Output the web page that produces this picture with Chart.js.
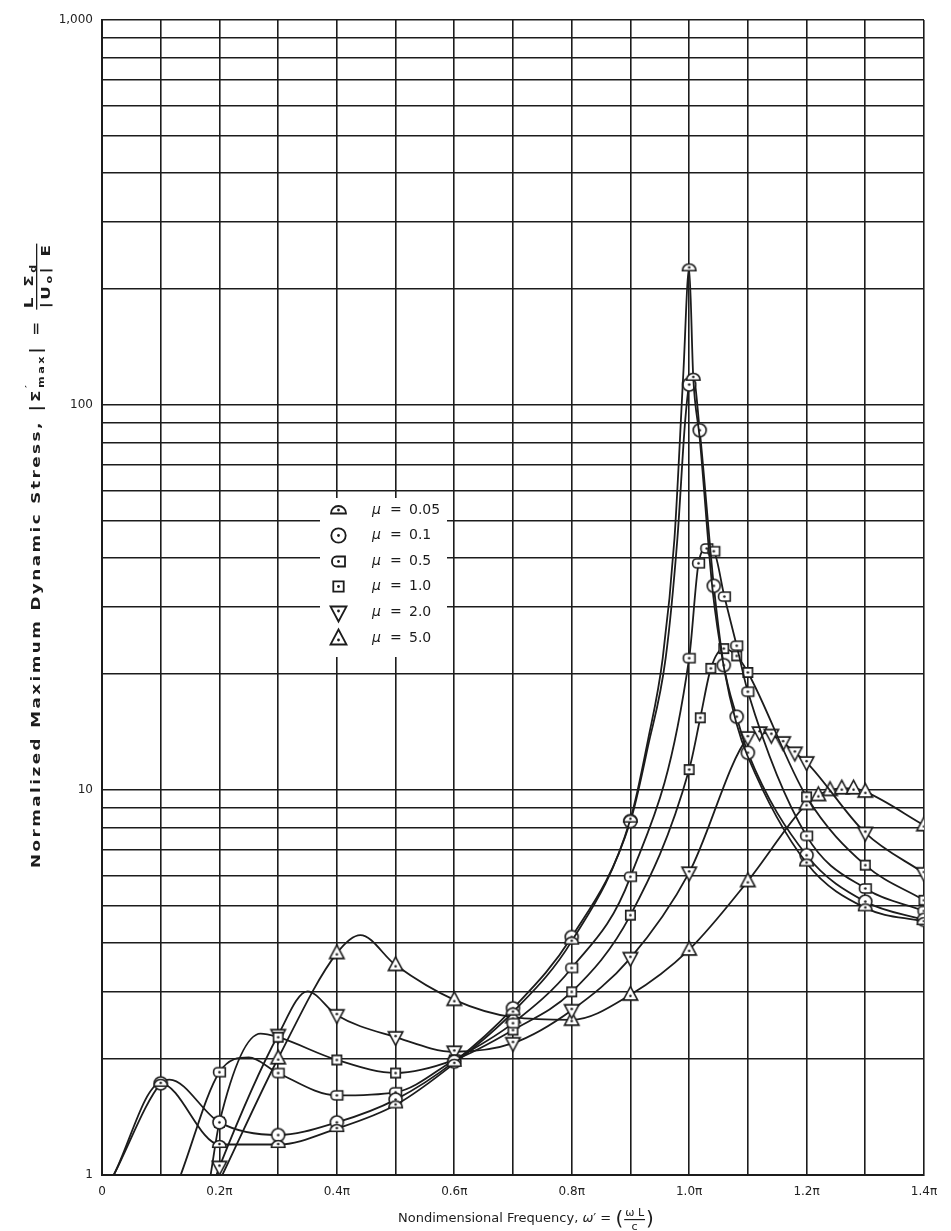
<!DOCTYPE html>
<html>
<head>
<meta charset="utf-8">
<script src="https://cdn.jsdelivr.net/npm/chart.js@4.4.0/dist/chart.umd.min.js"></script>
<style>
  html, body { margin: 0; padding: 0; background: #fff; }
  #wrap { width: 951px; height: 1231px; }
</style>
</head>
<body>
<div id="wrap"><canvas id="stressChart" width="951" height="1231"></canvas></div>
<script>
// frequency is in units of pi, stress is |sigma'max|
var freqTicks = [0, 0.1, 0.2, 0.3, 0.4, 0.5, 0.6, 0.7, 0.8, 0.9, 1.0, 1.1, 1.2, 1.3, 1.4];
var freqLabels = ['0', '', '0.2\u03c0', '', '0.4\u03c0', '', '0.6\u03c0', '', '0.8\u03c0', '', '1.0\u03c0', '', '1.2\u03c0', '', '1.4\u03c0'];
var stressTicks = [1, 2, 3, 4, 5, 6, 7, 8, 9, 10, 20, 30, 40, 50, 60, 70, 80, 90,
                   100, 200, 300, 400, 500, 600, 700, 800, 900, 1000];
var stressLabels = { 1: '1', 10: '10', 100: '100', 1000: '1,000' };

var muLabels = ['0.05', '0.1', '0.5', '1.0', '2.0', '5.0'];

// mu = 0.05
var freq005 = [0.02, 0.1, 0.2, 0.3, 0.4, 0.5, 0.6, 0.7, 0.8, 0.9, 0.93, 0.955, 0.975, 0.99, 1.0, 1.007, 1.018, 1.04, 1.06, 1.08, 1.1, 1.2, 1.3, 1.4];
var stress005 = [1.0, 1.73, 1.2, 1.2, 1.32, 1.52, 1.95, 2.65, 4.05, 8.4, 13.5, 22, 45, 120, 227, 118, 82, 33, 20.5, 15, 12.2, 6.46, 4.94, 4.55];
var marks005 = [0.1, 0.2, 0.3, 0.4, 0.5, 0.6, 0.7, 0.8, 0.9, 1.0, 1.007, 1.2, 1.3, 1.4];

// mu = 0.1
var freq01 = [0.02, 0.1, 0.115, 0.2, 0.3, 0.4, 0.5, 0.6, 0.7, 0.8, 0.9, 0.93, 0.96, 0.98, 0.993, 1.0, 1.007, 1.018, 1.042, 1.059, 1.081, 1.1, 1.2, 1.3, 1.4];
var stress01 = [1.0, 1.73, 1.77, 1.37, 1.27, 1.37, 1.57, 1.97, 2.71, 4.15, 8.3, 13, 22, 45, 90, 113, 118, 86, 33.9, 21.1, 15.5, 12.5, 6.77, 5.13, 4.6];
var marks01 = [0.1, 0.2, 0.3, 0.4, 0.5, 0.6, 0.7, 0.8, 0.9, 1.0, 1.018, 1.042, 1.059, 1.081, 1.1, 1.2, 1.3, 1.4];

// mu = 0.5
var freq05 = [0.134, 0.2, 0.25, 0.3, 0.4, 0.5, 0.6, 0.7, 0.8, 0.9, 1.0, 1.016, 1.03, 1.042, 1.06, 1.081, 1.1, 1.2, 1.3, 1.4];
var stress05 = [1.0, 1.85, 2.02, 1.84, 1.61, 1.64, 1.99, 2.48, 3.45, 5.95, 22, 38.8, 42.4, 41.7, 31.8, 23.7, 18.0, 7.6, 5.55, 4.85];
var marks05 = [0.2, 0.3, 0.4, 0.5, 0.6, 0.7, 0.8, 0.9, 1.0, 1.016, 1.03, 1.042, 1.06, 1.081, 1.1, 1.2, 1.3, 1.4];

// mu = 1.0
var freq10 = [0.185, 0.2, 0.27, 0.3, 0.4, 0.5, 0.6, 0.7, 0.8, 0.9, 1.0, 1.019, 1.037, 1.059, 1.081, 1.1, 1.2, 1.3, 1.4];
var stress10 = [1.0, 1.37, 2.33, 2.28, 1.99, 1.84, 1.99, 2.38, 2.99, 4.73, 11.3, 15.4, 20.7, 23.3, 22.3, 20.2, 9.6, 6.38, 5.17];
var marks10 = [0.2, 0.3, 0.4, 0.5, 0.6, 0.7, 0.8, 0.9, 1.0, 1.019, 1.037, 1.059, 1.081, 1.1, 1.2, 1.3, 1.4];

// mu = 2.0
var freq20 = [0.195, 0.2, 0.3, 0.35, 0.4, 0.5, 0.6, 0.7, 0.8, 0.9, 1.0, 1.1, 1.12, 1.14, 1.16, 1.18, 1.2, 1.3, 1.4];
var stress20 = [1.0, 1.05, 2.31, 3.0, 2.6, 2.28, 2.09, 2.2, 2.68, 3.66, 6.1, 13.7, 14.1, 13.9, 13.3, 12.5, 11.8, 7.74, 6.08];
var marks20 = [0.2, 0.3, 0.4, 0.5, 0.6, 0.7, 0.8, 0.9, 1.0, 1.1, 1.12, 1.14, 1.16, 1.18, 1.2, 1.3, 1.4];

// mu = 5.0
var freq50 = [0.205, 0.3, 0.4, 0.44, 0.5, 0.6, 0.7, 0.8, 0.9, 1.0, 1.1, 1.2, 1.22, 1.24, 1.26, 1.28, 1.3, 1.4];
var stress50 = [1.0, 2.01, 3.77, 4.2, 3.51, 2.85, 2.57, 2.53, 2.94, 3.85, 5.8, 9.2, 9.7, 10.0, 10.1, 10.1, 9.9, 8.1];
var marks50 = [0.3, 0.4, 0.5, 0.6, 0.7, 0.8, 0.9, 1.0, 1.1, 1.2, 1.22, 1.24, 1.26, 1.28, 1.3, 1.4];

var ink = '#1c1c1c';
var symbolKinds = ['dome', 'circle', 'dbox', 'square', 'down', 'up'];

// little hollow symbols with a dot in the middle, like the original plot
function makeSymbol(kind, scale) {
    var size = Math.ceil(20 * scale) + 3;
    var c = document.createElement('canvas');
    c.width = size;
    c.height = size;
    var g = c.getContext('2d');
    g.translate(size / 2, size / 2);
    g.scale(scale, scale);
    g.lineWidth = 1.8;
    g.strokeStyle = ink;
    g.fillStyle = '#fff';
    g.beginPath();
    var dotY = 0;
    if (kind === 'dome') {
        g.arc(0, 3, 7.5, Math.PI, 2 * Math.PI);
        g.closePath();
        dotY = -0.5;
    } else if (kind === 'circle') {
        g.arc(0, 0, 7.2, 0, 2 * Math.PI);
    } else if (kind === 'dbox') {
        g.moveTo(6.5, -5);
        g.lineTo(-2, -5);
        g.arcTo(-6.5, -5, -6.5, 0, 4.5);
        g.arcTo(-6.5, 5, -2, 5, 4.5);
        g.lineTo(6.5, 5);
        g.closePath();
    } else if (kind === 'square') {
        g.rect(-5.2, -5.2, 10.4, 10.4);
    } else if (kind === 'down') {
        g.moveTo(-8, -6);
        g.lineTo(8, -6);
        g.lineTo(0, 9);
        g.closePath();
        dotY = -1.5;
    } else {
        g.moveTo(-8, 6);
        g.lineTo(8, 6);
        g.lineTo(0, -9);
        g.closePath();
        dotY = 1.5;
    }
    g.fill();
    g.stroke();
    g.beginPath();
    g.fillStyle = ink;
    g.arc(0, dotY, 1.4, 0, 2 * Math.PI);
    g.fill();
    return c;
}

var plotSymbols = symbolKinds.map(function (k) { return makeSymbol(k, 0.9); });
var legendSymbols = symbolKinds.map(function (k) { return makeSymbol(k, 1); });

function makeSeries(i, freq, stress, marks) {
    return {
        label: '\u03bc = ' + muLabels[i],
        data: freq.map(function (f, j) { return { x: f, y: stress[j] }; }),
        borderColor: ink,
        borderWidth: 1.8,
        cubicInterpolationMode: 'monotone',
        fill: false,
        pointStyle: plotSymbols[i],
        pointRadius: function (ctx) {
            return ctx.raw && marks.indexOf(ctx.raw.x) >= 0 ? 6 : 0;
        },
        pointHoverRadius: 0
    };
}

var datasets = [
    makeSeries(0, freq005, stress005, marks005),
    makeSeries(1, freq01, stress01, marks01),
    makeSeries(2, freq05, stress05, marks05),
    makeSeries(3, freq10, stress10, marks10),
    makeSeries(4, freq20, stress20, marks20),
    makeSeries(5, freq50, stress50, marks50)
];

// legend box sits inside the grid, covering the lines behind it
var muLegend = {
    id: 'muLegend',
    afterDatasetsDraw: function (chart) {
        var ctx = chart.ctx;
        ctx.save();
        ctx.fillStyle = '#fff';
        ctx.fillRect(320, 498, 127, 159);
        ctx.textBaseline = 'middle';
        ctx.fillStyle = ink;
        for (var i = 0; i < muLabels.length; i++) {
            var y = 510 + i * 25.6;
            var img = legendSymbols[i];
            ctx.drawImage(img, Math.round(338 - img.width / 2), Math.round(y - img.height / 2));
            ctx.font = 'italic 14px "DejaVu Sans"';
            ctx.fillText('\u03bc', 372, y);
            ctx.font = '14px "DejaVu Sans"';
            ctx.fillText('=', 390, y);
            ctx.fillText(muLabels[i], 409, y);
        }
        ctx.restore();
    }
};

// y title: wide lettering, drawn stretched along the text plus a little spacing
function yTitle(ctx, sp, draw) {
    var x = 0, n = 0;
    var fy = 'bold 12px "DejaVu Sans"';
    var fsub = 'bold 8px "DejaVu Sans"';
    function put(text, font, dy) {
        ctx.font = font;
        for (var k = 0; k < text.length; k++) {
            if (draw) ctx.fillText(text[k], x, dy || 0);
            x += ctx.measureText(text[k]).width + sp;
            n++;
        }
    }
    put('Normalized Maximum Dynamic Stress, ', fy);
    put('|', '16px "DejaVu Sans"', 1);
    put('\u03a3', fy);
    if (draw) { ctx.font = fsub; ctx.fillText('\u2032', x, -8); }
    put('max', fsub, 4);
    put('|', '16px "DejaVu Sans"', 1);
    put(' = ', fy);
    var f0 = x + 2;
    x = f0;
    put('L \u03a3', fy, -7);
    put('d', fsub, -4);
    var numEnd = x;
    x = f0;
    put('|U', fy, 10);
    put('o', fsub, 12);
    put('| E', fy, 10);
    var end = Math.max(numEnd, x);
    if (draw) ctx.fillRect(f0 - 1, -4, end - f0 + 2 - sp, 1.3);
    return { width: end - sp, count: n - 5 };
}

// axis titles with the little fractions
var axisTitles = {
    id: 'axisTitles',
    afterDraw: function (chart) {
        var ctx = chart.ctx;
        var x = 0;
        function put(text, font, dy) {
            ctx.font = font;
            ctx.fillText(text, x, dy || 0);
            x += ctx.measureText(text).width;
        }
        ctx.save();
        ctx.fillStyle = ink;
        ctx.textBaseline = 'alphabetic';

        // x title
        var fx = '13px "DejaVu Sans"';
        ctx.translate(398, 1222);
        x = 0;
        put('Nondimensional Frequency, ', fx);
        put('\u03c9', 'italic 13px "DejaVu Sans"');
        put('\u2032 = ', fx);
        put('(', '20px "DejaVu Sans"', 3);
        var fs = x + 2;
        ctx.font = '11px "DejaVu Sans"';
        var numW = ctx.measureText('\u03c9 L').width;
        ctx.fillText('\u03c9 L', fs, -6);
        ctx.fillRect(fs - 1, -3, numW + 2, 1.2);
        ctx.fillText('c', fs + numW / 2 - 3, 8);
        x = fs + numW + 2;
        put(')', '20px "DejaVu Sans"', 3);
        ctx.restore();

        // y title, rotated, from y=868 up to about y=245
        var stretch = 1.4;
        ctx.save();
        ctx.fillStyle = ink;
        ctx.textBaseline = 'alphabetic';
        ctx.translate(40, 868);
        ctx.rotate(-Math.PI / 2);
        ctx.scale(stretch, 1);
        var natural = yTitle(ctx, 0, false);
        var sp = Math.max(0, (623 / stretch - natural.width) / natural.count);
        yTitle(ctx, sp, true);
        ctx.restore();
    }
};

var ctx = document.getElementById('stressChart').getContext('2d');
var stressChart = new Chart(ctx, {
    type: 'line',
    data: { datasets: datasets },
    options: {
        responsive: false,
        animation: false,
        devicePixelRatio: 1,
        events: [],
        layout: { padding: { left: 0, right: 27, top: 20, bottom: 0 } },
        plugins: {
            legend: { display: false },
            tooltip: { enabled: false }
        },
        scales: {
            x: {
                type: 'linear',
                min: 0,
                max: 1.4,
                afterBuildTicks: function (scale) {
                    scale.ticks = freqTicks.map(function (v) { return { value: v }; });
                },
                afterFit: function (scale) { scale.height = 56; },
                grid: { color: ink, lineWidth: 1.6, drawTicks: false },
                border: { color: ink, width: 2 },
                ticks: {
                    autoSkip: false,
                    maxRotation: 0,
                    padding: 10,
                    color: '#222',
                    font: { family: 'DejaVu Sans', size: 12 },
                    callback: function (value, index) { return freqLabels[index]; }
                }
            },
            y: {
                type: 'logarithmic',
                min: 1,
                max: 1000,
                afterBuildTicks: function (scale) {
                    scale.ticks = stressTicks.map(function (v) { return { value: v }; });
                },
                afterFit: function (scale) { scale.width = 102; },
                grid: { color: ink, lineWidth: 1.6, drawTicks: false },
                border: { color: ink, width: 2 },
                ticks: {
                    autoSkip: false,
                    padding: 9,
                    color: '#222',
                    font: { family: 'DejaVu Sans', size: 12 },
                    callback: function (value) { return stressLabels[value] || ''; }
                }
            }
        }
    },
    plugins: [muLegend, axisTitles]
});
</script>
</body>
</html>
